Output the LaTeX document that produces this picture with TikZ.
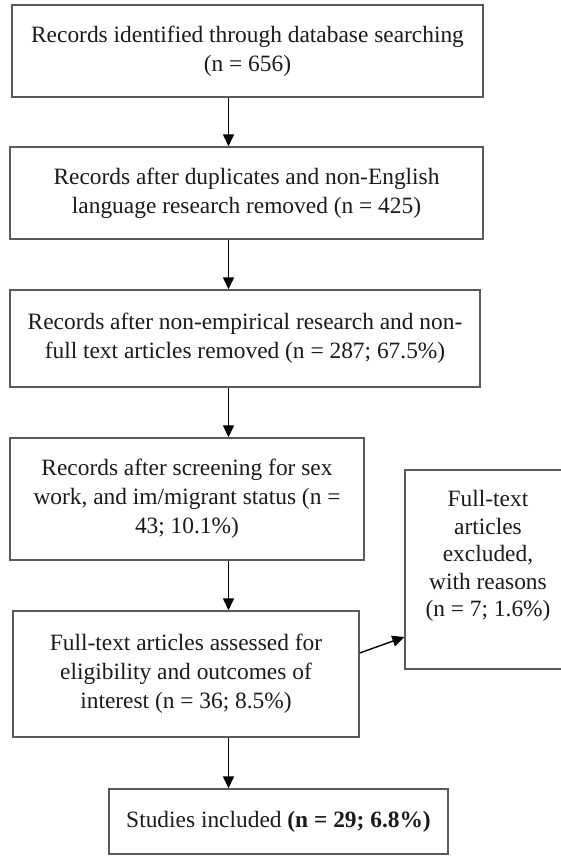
\documentclass[tikz,border=0pt]{standalone}
\usepackage{fontspec}
\setmainfont{Liberation Serif}
\usetikzlibrary{arrows.meta}
\definecolor{framegray}{HTML}{5A5A5A}
\definecolor{inkgray}{HTML}{1A1A1A}
\begin{document}
\begin{tikzpicture}[x=1pt,y=-1pt,
  box/.style={draw=framegray, line width=1.4pt, rectangle, align=center, text=inkgray,
    font=\fontsize{23.4}{29}\selectfont, inner sep=0pt},
  >={Triangle[length=12pt,width=11pt]}]
\useasboundingbox (0,0) rectangle (561,856);
\coordinate (axis) at (228.5,0);
\node[box, minimum width=471pt, minimum height=92pt] (b1) at (247.5,51) {Records identified through database searching\\(n = 656)};
\node[box, minimum width=473pt, minimum height=92pt] (b2) at (246.5,193) {Records after duplicates and non-English\\language research removed (n = 425)};
\node[box, minimum width=470pt, minimum height=97pt] (b3) at (245,338.5) {Records after non-empirical research and non-\\full text articles removed (n = 287; 67.5\%)};
\node[box, minimum width=354pt, minimum height=122pt] (b4) at (187,499) {Records after screening for sex\\work, and im/migrant status (n =\\43; 10.1\%)};
\node[box, minimum width=166pt, minimum height=199pt] (ex) at (488,569.5) {};
\node[font=\fontsize{23.4}{27.5}\selectfont, align=center, text=inkgray, inner sep=0pt] (exlbl) at (488,556) {Full-text\\articles\\excluded,\\with reasons\\(n = 7; 1.6\%)};
\node[box, minimum width=346pt, minimum height=126pt] (b6) at (186,674) {Full-text articles assessed for\\eligibility and outcomes of\\interest (n = 36; 8.5\%)};
\node[box, minimum width=339pt, minimum height=65pt] (b7) at (278.5,821.5) {Studies included \textbf{(n = 29; 6.8\%)}};
\draw[->, line width=1.4pt] (b1.south -| axis) -- (b2.north -| axis);
\draw[->, line width=1.4pt] (b2.south -| axis) -- (b3.north -| axis);
\draw[->, line width=1.4pt] (b3.south -| axis) -- (b4.north -| axis);
\draw[->, line width=1.4pt] (b4.south -| axis) -- (b6.north -| axis);
\draw[->, line width=1.4pt] (b6.south -| axis) -- (b7.north -| axis);
\draw[->, line width=1.4pt] ([yshift=21pt]b6.east) -- ([yshift=-67.5pt]ex.west);
\end{tikzpicture}
\end{document}
